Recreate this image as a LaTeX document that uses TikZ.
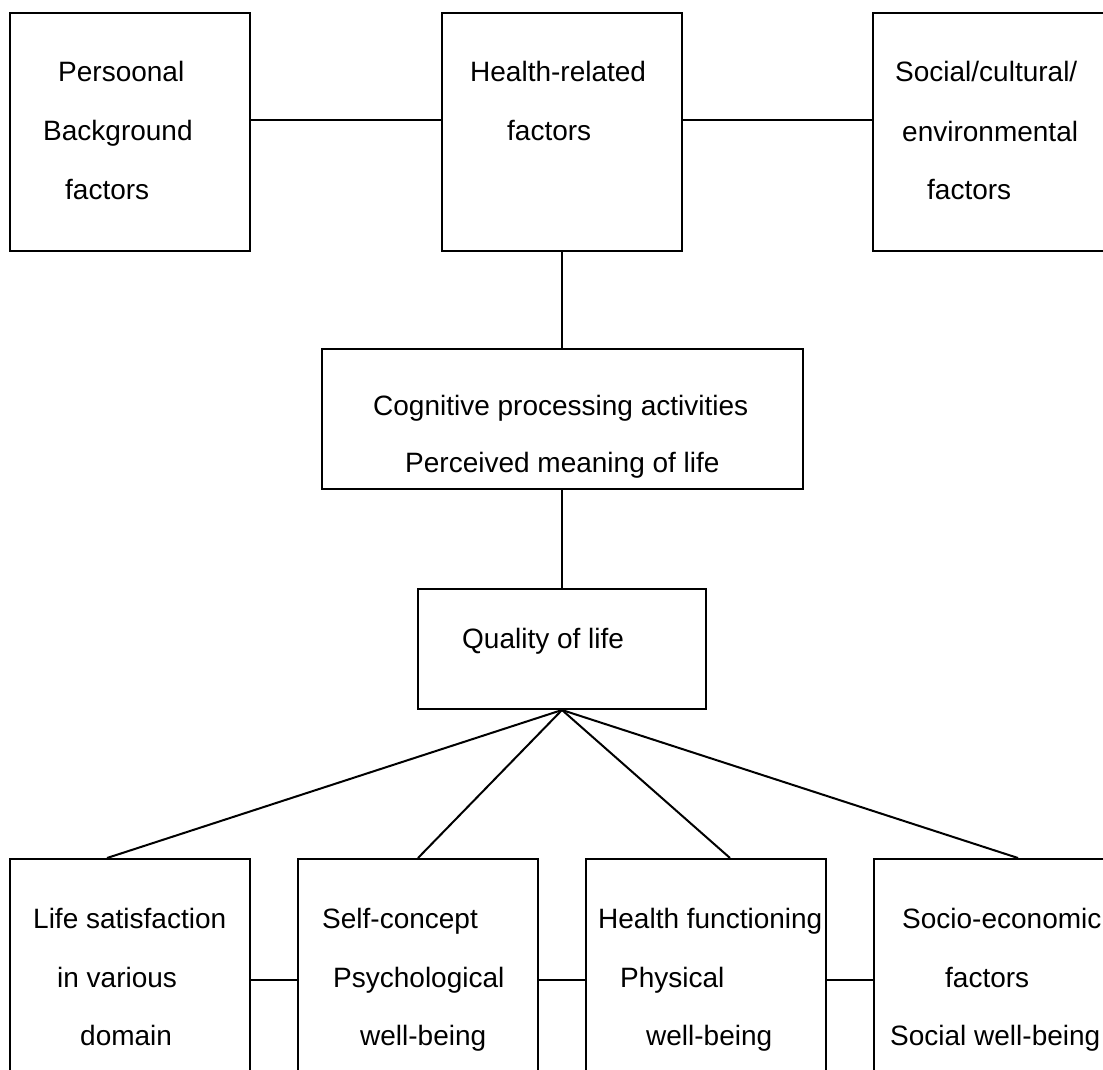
\documentclass[tikz,border=0pt]{standalone}
\usepackage{fontspec}
\setmainfont{Liberation Sans}
\usepackage{tikz}
\usetikzlibrary{positioning,calc}

\begin{document}
\begin{tikzpicture}[
  x=1pt, y=-1pt,
  font=\fontsize{28}{34}\selectfont,
  block/.style={
    draw=black, line width=2pt, fill=white,
    minimum width=240pt, minimum height=238pt, inner sep=0pt
  },
  midblock/.style={block, minimum width=481pt, minimum height=140pt},
  qolblock/.style={block, minimum width=288pt, minimum height=120pt},
  lowblock/.style={block, minimum height=260pt},
  txt/.style={anchor=base west, inner sep=0pt},
  link/.style={draw=black, line width=2pt}
]

\useasboundingbox (0,0) rectangle (1103,1070);
\clip (0,0) rectangle (1103,1070);

\def\topy{132}
\def\lowy{989}

% top row
\node[block] (pb) at (130, \topy) {};
\node[block] (hr) at (562, \topy) {};
\node[block] (sc) at (993, \topy) {};

\node[txt] (pb1) at (58, 82)  {Persoonal};
\node[txt] (pb2) at (43, 141) {Background};
\node[txt] (pb3) at (65, 199) {factors};

\node[txt] (hr1) at (470, 82)  {Health-related};
\node[txt] (hr2) at (507, 141) {factors};

\node[txt] (sc1) at (895, 82)  {Social/cultural/};
\node[txt] (sc2) at (902, 142) {environmental};
\node[txt] (sc3) at (927, 199) {factors};

% middle
\node[midblock] (cp) at (562, 419) {};
\node[txt] (cp1) at (373, 415) {Cognitive processing activities};
\node[txt] (cp2) at (405, 472) {Perceived meaning of life};

\node[qolblock] (ql) at (562, 649) {};
\node[txt] (ql1) at (462, 648) {Quality of life};

% bottom row
\node[lowblock] (ls) at (130, \lowy) {};
\node[lowblock] (ps) at (418, \lowy) {};
\node[lowblock] (hf) at (706, \lowy) {};
\node[lowblock] (se) at (994, \lowy) {};

\node[txt] (ls1) at (33, 928)  {Life satisfaction};
\node[txt] (ls2) at (57, 987)  {in various};
\node[txt] (ls3) at (80, 1045) {domain};

\node[txt] (ps1) at (322, 928)  {Self-concept};
\node[txt] (ps2) at (333, 987)  {Psychological};
\node[txt] (ps3) at (360, 1045) {well-being};

\node[txt] (hf1) at (598, 928)  {Health functioning};
\node[txt] (hf2) at (620, 987)  {Physical};
\node[txt] (hf3) at (646, 1045) {well-being};

\node[txt] (se1) at (902, 928)  {Socio-economic};
\node[txt] (se2) at (945, 987)  {factors};
\node[txt] (se3) at (890, 1045) {Social well-being};

% connectors
\draw[link] ([yshift=12pt]pb.east) -- ([yshift=12pt]hr.west);
\draw[link] ([yshift=12pt]hr.east) -- ([yshift=12pt]sc.west);
\draw[link] (hr.south) -- (cp.north);
\draw[link] (cp.south) -- (ql.north);

\draw[link] (ql.south) -- ([xshift=-23pt]ls.north);
\draw[link] (ql.south) -- (ps.north);
\draw[link] (ql.south) -- ([xshift=24pt]hf.north);
\draw[link] (ql.south) -- ([xshift=24pt]se.north);

\draw[link] ([yshift=9pt]ls.east) -- ([yshift=9pt]ps.west);
\draw[link] ([yshift=9pt]ps.east) -- ([yshift=9pt]hf.west);
\draw[link] ([yshift=9pt]hf.east) -- ([yshift=9pt]se.west);

\end{tikzpicture}
\end{document}
